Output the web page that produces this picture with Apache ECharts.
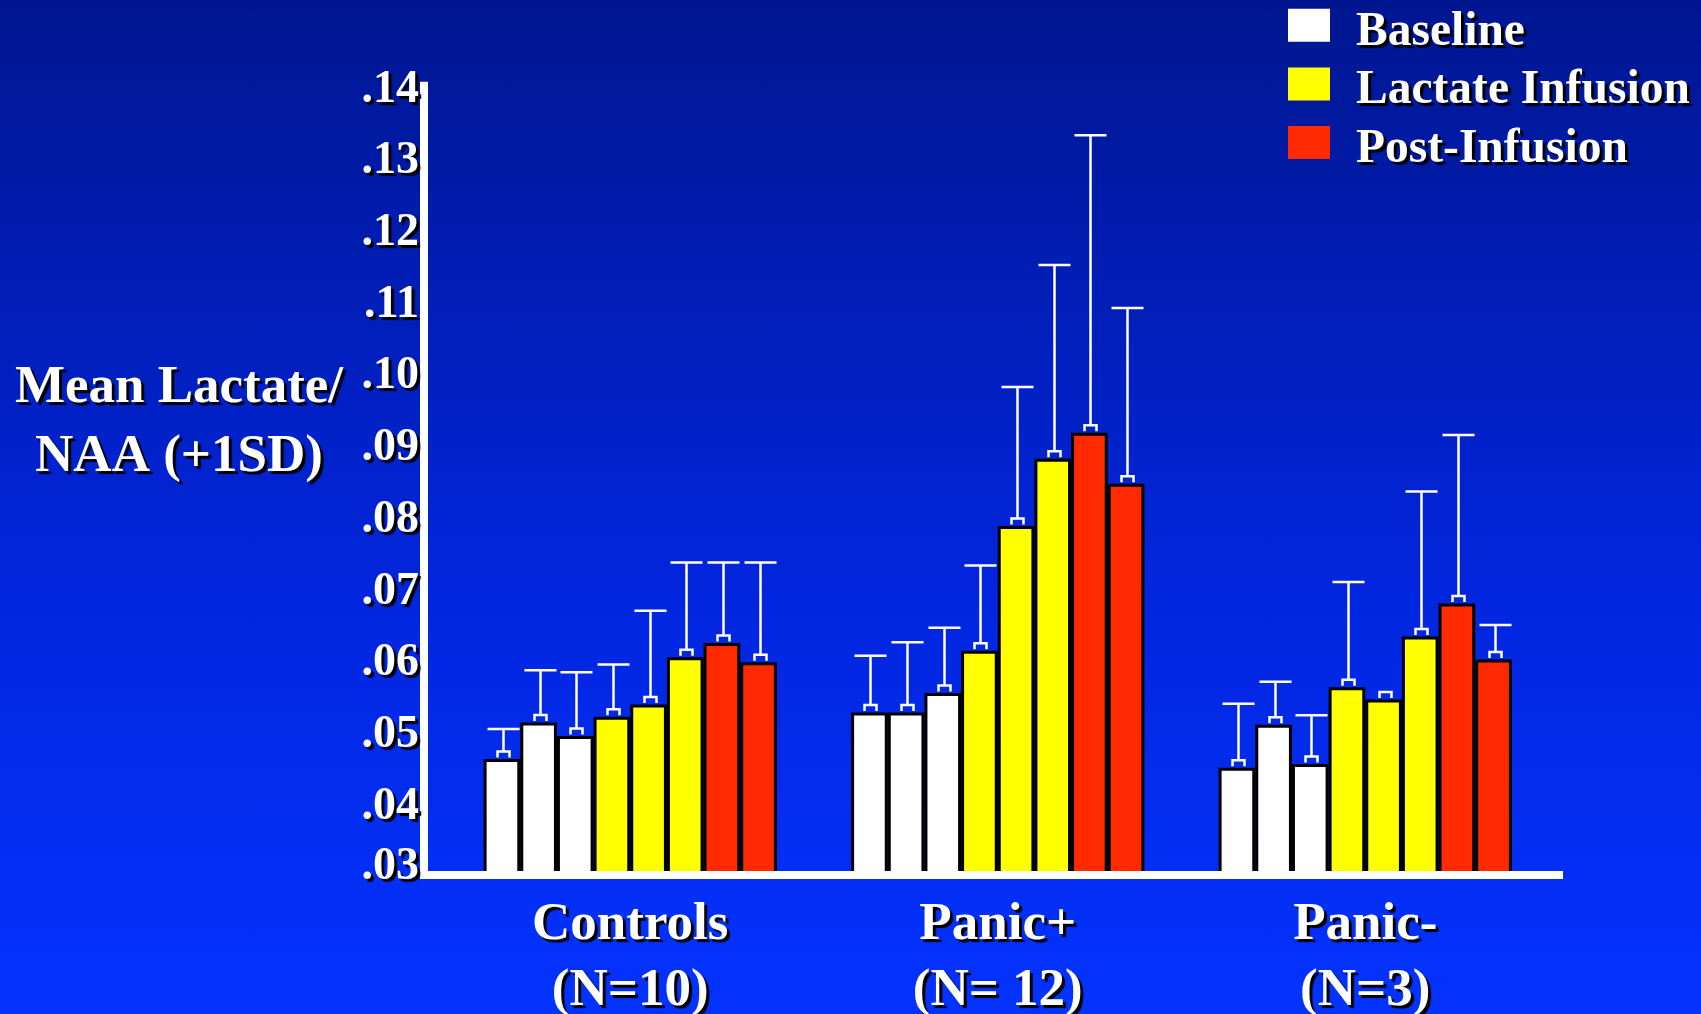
<!DOCTYPE html>
<html>
<head>
<meta charset="utf-8">
<script src="https://cdn.jsdelivr.net/npm/echarts@6/dist/echarts.min.js"></script>
<style>
  html, body { margin: 0; padding: 0; width: 1701px; height: 1014px; overflow: hidden;
    background: linear-gradient(to bottom, #001690 0%, #0226e0 60%, #0433ff 100%); }
  #chart { width: 1701px; height: 1014px; }
</style>
</head>
<body>
<div id="chart"></div>
<script>
// ---- data ----
const categories = ['Controls\n(N=10)', 'Panic+\n(N= 12)', 'Panic-\n(N=3)'];
const phaseNames = ['Baseline', 'Baseline', 'Baseline',
                    'Lactate Infusion', 'Lactate Infusion', 'Lactate Infusion',
                    'Post-Infusion', 'Post-Infusion'];
const legendNames = ['Baseline', 'Lactate Infusion', 'Post-Infusion'];
// mean values (bar heights) for the 8 measurements in each group
const controlsMean   = [0.0461, 0.0512, 0.0493, 0.0520, 0.0537, 0.0603, 0.0623, 0.0596];
const panicPlusMean  = [0.0526, 0.0526, 0.0553, 0.0612, 0.0786, 0.0880, 0.0916, 0.0845];
const panicMinusMean = [0.0449, 0.0509, 0.0454, 0.0561, 0.0544, 0.0632, 0.0678, 0.0600];
// mean + 1 SD (error bar tops)
const controlsUpper   = [0.0503, 0.0585, 0.0582, 0.0593, 0.0668, 0.0735, 0.0735, 0.0735];
const panicPlusUpper  = [0.0605, 0.0624, 0.0644, 0.0731, 0.0980, 0.1150, 0.1331, 0.1090];
const panicMinusUpper = [0.0538, 0.0569, 0.0522, 0.0708, 0.0544, 0.0834, 0.0913, 0.0648];
const yTickLabels = ['.03', '.04', '.05', '.06', '.07', '.08', '.09', '.10', '.11', '.12', '.13', '.14'];
const yTitle = 'Mean Lactate/\nNAA (+1SD)';

// ---- styling ----
const FONT = "'Liberation Serif', 'Times New Roman', serif";
const phaseColor = { 'Baseline': '#ffffff', 'Lactate Infusion': '#ffff00', 'Post-Infusion': '#ff2a00' };
const CAT_GAP = 0.202;
const N_SUB = 8;
const shadow = { textShadowColor: '#000000', textShadowOffsetX: 3, textShadowOffsetY: 3, textShadowBlur: 1 };

const groupMeans = [controlsMean, panicPlusMean, panicMinusMean];
const groupUppers = [controlsUpper, panicPlusUpper, panicMinusUpper];

const barSeries = phaseNames.map((name, s) => ({
  type: 'bar',
  name: name,
  xAxisIndex: 1,
  yAxisIndex: 1,
  data: groupMeans.map(g => g[s]),
  barGap: '0%',
  barCategoryGap: (CAT_GAP * 100) + '%',
  itemStyle: { color: phaseColor[name], borderColor: '#000', borderWidth: 3 },
  emphasis: { disabled: true },
  z: 2
}));

const errData = [];
groupMeans.forEach((g, c) => g.forEach((m, s) => errData.push([c, s, m, groupUppers[c][s]])));

function renderErr(params, api) {
  const cat = api.value(0), sub = api.value(1), mean = api.value(2), upper = api.value(3);
  const pm = api.coord([cat, mean]);
  const pu = api.coord([cat, upper]);
  const band = api.size([1, 0])[0];
  const barW = band * (1 - CAT_GAP) / N_SUB;
  const x = Math.round(pm[0] - N_SUB / 2 * barW + (sub + 0.5) * barW) + 1.5;
  const y0 = pm[1] - 1.5;
  const st = { stroke: '#ffffff', lineWidth: 2.5, fill: null };
  const children = [{
    type: 'polyline',
    shape: { points: [[x - 6, y0], [x - 6, y0 - 6], [x + 6, y0 - 6], [x + 6, y0]] },
    style: st
  }];
  if (upper > mean) {
    children.push({ type: 'line', shape: { x1: x, y1: y0 - 6, x2: x, y2: pu[1] }, style: st });
    children.push({ type: 'line', shape: { x1: x - 16, y1: pu[1], x2: x + 16, y2: pu[1] }, style: st });
  }
  return { type: 'group', children: children };
}

const GRID_TOP = 85.8, GRID_BOTTOM = 139.5;

const option = {
  animation: false,
  backgroundColor: 'transparent',
  legend: {
    data: legendNames,
    orient: 'vertical',
    left: 1288,
    top: -5.7,
    padding: 0,
    itemWidth: 42,
    itemHeight: 33,
    itemGap: -3.4,
    icon: 'rect',
    selectedMode: false,
    itemStyle: { borderWidth: 0 },
    formatter: function (name) { return '{t|' + name + '}'; },
    textStyle: Object.assign({ color: '#fff', fontFamily: FONT, fontWeight: 'bold', fontSize: 47.5,
      rich: { t: Object.assign({ color: '#fff', fontFamily: FONT, fontWeight: 'bold', fontSize: 47.5,
        lineHeight: 31.3, padding: [14, 0, 0, 21] }, shadow) } }, shadow)
  },
  graphic: [{
    type: 'text',
    x: 179,
    y: 422.5,
    style: Object.assign({
      text: yTitle,
      fill: '#fff',
      font: 'bold 53px ' + FONT,
      fontFamily: FONT, fontWeight: 'bold', fontSize: 53,
      lineHeight: 69,
      align: 'center', verticalAlign: 'middle',
      textAlign: 'center', textVerticalAlign: 'middle'
    }, shadow)
  }],
  grid: [
    { left: 424, right: 142, top: GRID_TOP, bottom: GRID_BOTTOM, containLabel: false, outerBoundsMode: 'none' },
    { left: 446.5, right: 152, top: GRID_TOP, bottom: GRID_BOTTOM, containLabel: false, outerBoundsMode: 'none' }
  ],
  xAxis: [
    { gridIndex: 0, type: 'value', min: 0, max: 1, z: 10,
      axisLine: { show: true, lineStyle: { color: '#fff', width: 8, cap: 'square' } },
      axisTick: { show: false }, axisLabel: { show: false }, splitLine: { show: false } },
    { gridIndex: 1, type: 'category', data: categories,
      axisLine: { show: false }, axisTick: { show: false }, splitLine: { show: false },
      axisLabel: Object.assign({ color: '#fff', fontFamily: FONT, fontWeight: 'bold', fontSize: 53,
        lineHeight: 66, margin: 18, interval: 0 }, shadow) }
  ],
  yAxis: [
    { gridIndex: 0, type: 'value', min: 0.03, max: 0.14, interval: 0.01, z: 10,
      axisLine: { show: true, lineStyle: { color: '#fff', width: 8, cap: 'square' } },
      axisTick: { show: false }, splitLine: { show: false },
      axisLabel: Object.assign({
        color: '#fff', fontFamily: FONT, fontWeight: 'bold', fontSize: 46, margin: 5,
        padding: [8, 0, 0, 0],
        formatter: function (v) {
          const i = Math.round((v - 0.03) / 0.01);
          const t = yTickLabels[i] || '';
          return i === 0 ? '{low|' + t + '}' : t;
        },
        rich: { low: Object.assign({ color: '#fff', fontFamily: FONT, fontWeight: 'bold', fontSize: 46,
          padding: [0, 0, 22, 0] }, shadow) }
      }, shadow) },
    { gridIndex: 1, type: 'value', min: 0.03, max: 0.14, interval: 0.01, show: false }
  ],
  series: barSeries.concat([{
    type: 'custom',
    name: 'SD',
    xAxisIndex: 1,
    yAxisIndex: 1,
    data: errData,
    renderItem: renderErr,
    clip: false,
    z: 5,
    silent: true
  }])
};

const chart = echarts.init(document.getElementById('chart'), null, { renderer: 'canvas' });
chart.setOption(option);
</script>
</body>
</html>
